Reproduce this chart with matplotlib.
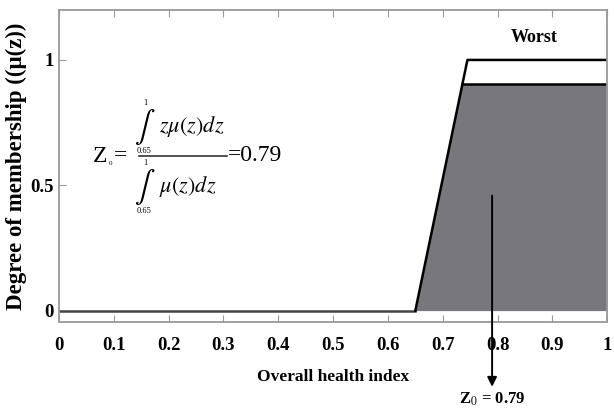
import matplotlib
matplotlib.use("Agg")
import matplotlib.pyplot as plt  # noqa: E402

plt.rcParams["font.family"] = ["Liberation Serif", "DejaVu Serif"]
plt.rcParams["mathtext.fontset"] = "stix"

# "Worst" membership function of the overall health index and its clipped output
worst_x = [0.0, 0.65, 0.745, 1.0]
worst_y = [0.0, 0.0, 1.0, 1.0]
clip_level = 0.905
clip_x = [0.65, 0.735, 1.0]
clip_y = [0.0, clip_level, clip_level]
centroid = 0.79
lower_limit = "0.65"
upper_limit = "1"

x_ticks = [0, 0.1, 0.2, 0.3, 0.4, 0.5, 0.6, 0.7, 0.8, 0.9, 1]
x_ticklabels = ["0", "0.1", "0.2", "0.3", "0.4", "0.5", "0.6", "0.7", "0.8", "0.9", "1"]
y_ticks = [0, 0.5, 1]
y_ticklabels = ["0", "0.5", "1"]

fig = plt.figure(figsize=(6.14, 4.09), dpi=100)
ax = fig.add_axes([0.096, 0.213, 0.893, 0.763])

ax.fill_between(clip_x, 0, clip_y, color="#78787c", lw=0)
ax.plot(clip_x[1:], clip_y[1:], color="black", lw=1.8)
ax.plot(worst_x[:2], worst_y[:2], color="#444444", lw=1.8)
ax.plot(worst_x[1:], worst_y[1:], color="black", lw=1.8)

ax.annotate("", xy=(centroid, -0.315), xytext=(centroid, 0.47),
            arrowprops=dict(arrowstyle="-|>", color="black", lw=1.4, mutation_scale=14),
            annotation_clip=False)
ax.text(centroid, -0.355, r"Z$_0$ = 0.79", ha="center", va="center",
        fontsize=12, fontweight="bold", clip_on=False)

ax.text(0.866, 1.09, "Worst", ha="center", va="center", fontsize=13, fontweight="bold")

# centroid formula, laid out piece by piece so the integrals get limits above/below
ax.text(0.062, 0.614, "Z", ha="left", va="center", fontsize=17)
ax.text(0.091, 0.585, "0", ha="left", va="center", fontsize=5)
ax.text(0.1, 0.618, "=", ha="left", va="center", fontsize=17)
ax.plot([0.146, 0.307], [0.618, 0.618], color="#333333", lw=1.2)
ax.text(0.308, 0.618, "=0.79", ha="left", va="center", fontsize=17)
for x_int, y_int, body in [(0.157, 0.733, r"$z\mu(z)dz$"), (0.157, 0.494, r"$\mu(z)dz$")]:
    ax.text(x_int, y_int, r"$\int$", ha="center", va="center", fontsize=22)
    ax.text(x_int, y_int + 0.096, upper_limit, ha="center", va="center", fontsize=6)
    ax.text(x_int - 0.002, y_int - 0.097, lower_limit, ha="center", va="center", fontsize=6)
    ax.text(x_int + 0.026, y_int, body, ha="left", va="center", fontsize=16)

ax.set_xlim(0, 1)
ax.set_ylim(-0.045, 1.2)
ax.set_xticks(x_ticks)
ax.set_xticklabels(x_ticklabels, fontsize=13.5, fontweight="bold")
ax.set_yticks(y_ticks)
ax.set_yticklabels(y_ticklabels, fontsize=13.5, fontweight="bold")
ax.tick_params(direction="in", length=5, color="#999999", top=True, pad=11)
ax.tick_params(axis="y", pad=4)
for sp in ax.spines.values():
    sp.set_color("#999999")
    sp.set_linewidth(1.3)

ax.set_xlabel("Overall health index", fontsize=12.5, fontweight="bold", labelpad=11)
ax.set_ylabel("Degree of membership ((\u03bc(z))", fontsize=16.5, fontweight="bold",
              labelpad=2)

fig.savefig("out.png", dpi=100)
